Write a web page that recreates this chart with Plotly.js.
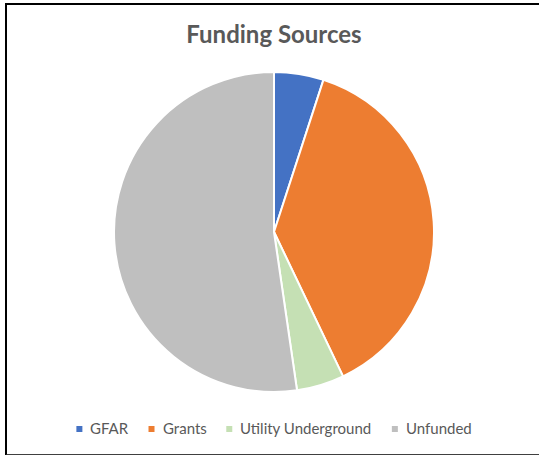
<!DOCTYPE html>
<html>
<head>
<meta charset="utf-8">
<script src="https://cdn.plot.ly/plotly-3.0.1.min.js"></script>
<style>
  html, body { margin: 0; padding: 0; background: #ffffff; }
  #frame { position: absolute; left: 5px; top: 3px; width: 600px; height: 449px;
           border-left: 2px solid #000; border-top: 2px solid #000; border-bottom: 2px solid #404040; }
  #chart { position: absolute; left: 0; top: 0; width: 539px; height: 455px; }
</style>
</head>
<body>
<div id="frame"></div>
<div id="chart"></div>
<script>
const labels = ["GFAR", "Grants", "Utility Underground", "Unfunded"];
const values = [5.0, 37.9, 4.8, 52.3];
const colors = ["#4472C4", "#ED7D31", "#C5E0B4", "#BFBFBF"];

const W = 539, H = 455;
const FONT = "Lato, 'Open Sans', sans-serif";
const legendFontSize = 15;

const trace = {
  type: "pie",
  labels: labels,
  values: values,
  sort: false,
  direction: "clockwise",
  rotation: 0,
  textinfo: "none",
  hoverinfo: "label+percent",
  showlegend: false,
  marker: { colors: colors, line: { color: "#ffffff", width: 2 } },
  domain: { x: [114/W, 434/W], y: [63/H, 383/H] }
};

// Custom legend (small square markers like the reference)
const ctx = document.createElement("canvas").getContext("2d");
ctx.font = legendFontSize + "px Lato";
const sq = 6, gapText = 6, gapItem = 22;
const widths = labels.map(l => ctx.measureText(l).width);
let total = 0;
widths.forEach((w, i) => { total += sq + gapText + w + (i < widths.length - 1 ? gapItem : 0); });
let x = 273 - total / 2;
const legY = 429;
const shapes = [], annotations = [];
labels.forEach((l, i) => {
  shapes.push({
    type: "rect", xref: "paper", yref: "paper",
    x0: x / W, x1: (x + sq) / W, y0: 1 - (legY + sq / 2) / H, y1: 1 - (legY - sq / 2) / H,
    fillcolor: colors[i], line: { width: 0 }
  });
  annotations.push({
    xref: "paper", yref: "paper", x: (x + sq + gapText) / W, y: 1 - (legY - 1) / H,
    xanchor: "left", yanchor: "middle", showarrow: false, text: l,
    font: { family: FONT, size: legendFontSize, color: "#595959" }
  });
  x += sq + gapText + widths[i] + gapItem;
});

const layout = {
  width: W, height: H,
  margin: { l: 0, r: 0, t: 0, b: 0 },
  paper_bgcolor: "rgba(0,0,0,0)",
  plot_bgcolor: "rgba(0,0,0,0)",
  font: { family: FONT, color: "#595959" },
  title: {
    text: "<b>Funding Sources</b>",
    font: { family: FONT, size: 24, color: "#595959" },
    x: 274/W, xanchor: "center",
    y: 1 - 35/H, yanchor: "middle"
  },
  showlegend: false,
  shapes: shapes,
  annotations: annotations
};

Plotly.newPlot("chart", [trace], layout, { displayModeBar: false, staticPlot: true });
</script>
</body>
</html>
